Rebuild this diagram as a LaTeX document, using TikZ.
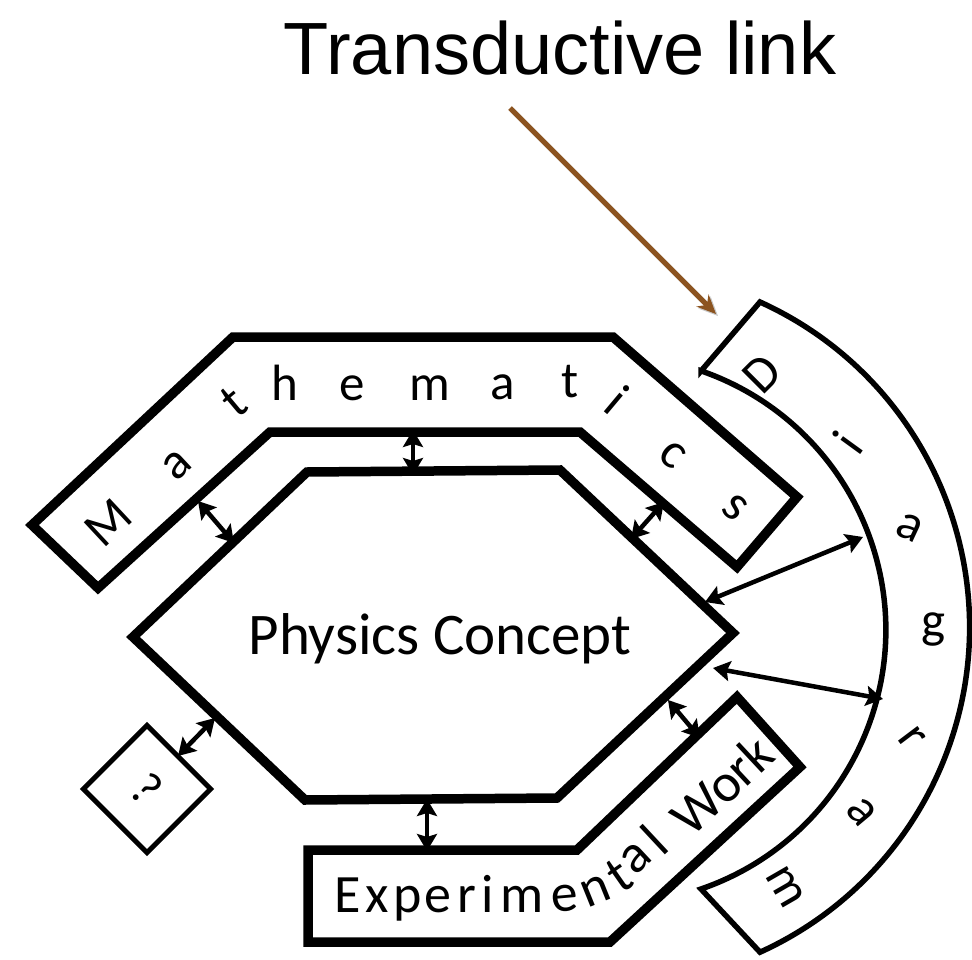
\documentclass[tikz,border=0pt]{standalone}
\usepackage{fontspec}
\setmainfont{Carlito}
\newfontfamily\arialf{Liberation Sans}
\usetikzlibrary{arrows.meta}
\definecolor{linkbrown}{RGB}{140,84,32}
\begin{document}
\begin{tikzpicture}[x=1pt,y=-1pt,
  thickline/.style={draw=black, line width=9.5pt, line join=miter},
  thinline/.style={draw=black, line width=5.5pt},
  link/.style={line width=4.5pt, {Stealth[length=17pt,width=20pt,inset=3pt]}-{Stealth[length=17pt,width=20pt,inset=3pt]}},
  lt/.style={inner sep=0pt, font=\fontsize{51}{60}\selectfont},
  et/.style={inner sep=0pt, font=\fontsize{54}{64}\selectfont}]
\useasboundingbox (0,0) rectangle (972,960);

% ---------- Physics Concept hexagon ----------
\coordinate (h1) at (307,472);
\coordinate (h2) at (560,470);
\coordinate (h3) at (733,633);
\coordinate (h4) at (557,798);
\coordinate (h5) at (305,800);
\coordinate (h6) at (133,637);
\draw[thickline] (h1) -- (h2) -- (h3) -- (h4) -- (h5) -- (h6) -- cycle;
\node[inner sep=0pt, anchor=base, font=\fontsize{59}{70}\selectfont] (pc) at (440,654) {Physics Concept};

% ---------- Mathematics band ----------
\coordinate (m1) at (32,525);
\coordinate (m2) at (233,337);
\coordinate (m3) at (613,337);
\coordinate (m4) at (797,497);
\coordinate (m5) at (737,567);
\coordinate (m6) at (580,432);
\coordinate (m7) at (270,432);
\coordinate (m8) at (98,588);
\draw[thickline] (m1) -- (m2) -- (m3) -- (m4) -- (m5) -- (m6) -- (m7) -- (m8) -- cycle;
\node[lt, rotate=43] (mM) at (108,523) {M};
\node[lt, rotate=43] (ma1) at (177,465) {a};
\node[lt, rotate=40] (mt1) at (234,402) {t};
\node[lt] (mh) at (285,383) {h};
\node[lt] (me) at (352,388) {e};
\node[lt] (mm) at (430,388) {m};
\node[lt] (ma2) at (503,387) {a};
\node[lt] (mt2) at (570,382) {t};
\node[lt, rotate=-40] (mi) at (617,400) {i};
\node[lt, rotate=-40] (mc) at (673,455) {c};
\node[lt, rotate=-40] (ms) at (735,508) {s};

% ---------- Experimental Work band ----------
\coordinate (e1) at (308,850);
\coordinate (e2) at (577,850);
\coordinate (e3) at (737,697);
\coordinate (e4) at (800,767);
\coordinate (e5) at (610,942);
\coordinate (e6) at (308,942);
\draw[thickline] (e1) -- (e2) -- (e3) -- (e4) -- (e5) -- (e6) -- cycle;
\node[et, anchor=base] (eE) at (348,912) {E};
\node[et, anchor=base] (ex) at (377,912) {x};
\node[et, anchor=base] (ep) at (408,912) {p};
\node[et, anchor=base] (ee1) at (438,912) {e};
\node[et, anchor=base] (er1) at (467,912) {r};
\node[et, anchor=base] (ei) at (488,912) {i};
\node[et, anchor=base] (em) at (522,912) {m};
\node[et, rotate=5] (ee2) at (565,898) {e};
\node[et, rotate=22] (en) at (596,891) {n};
\node[et, rotate=35] (et) at (619,875) {t};
\node[et, rotate=43] (ea) at (636,858) {a};
\node[et, rotate=43] (el) at (654,840) {l};
\node[et, rotate=43] (ework) at (722,785) {Work};

% ---------- Diagram band ----------
\coordinate (d1) at (701,371);
\coordinate (d2) at (760,302);
\coordinate (d3) at (760,951);
\coordinate (d4) at (701,889);
\draw[thinline, line join=miter] (d1) -- (d2)
  arc[start angle=-65.6, end angle=65.6, radius=357]
  -- (d4)
  arc[start angle=71, end angle=-71, radius=274] -- cycle;
\node[lt, rotate=45] (dD) at (762,374) {D};
\node[lt, rotate=54] (di) at (848,442) {i};
\node[lt, rotate=-25] (da1) at (910,528) {a};
\node[lt] (dg) at (933,630) {g};
\node[lt, rotate=-53] (dr) at (912,738) {r};
\node[lt, rotate=-50] (da2) at (862,812) {a};
\node[lt, rotate=-60] (dm) at (785,887) {m};

% ---------- ? diamond ----------
\node[draw, line width=5pt, rotate=-45, minimum size=90pt, inner sep=0pt,
      font=\fontsize{48}{56}\selectfont] (q) at (147,789) {?};

% ---------- links ----------
\coordinate (a1s) at (413,430); \coordinate (a1e) at (413,475);
\coordinate (a2s) at (198,501); \coordinate (a2e) at (234,543);
\coordinate (a3s) at (664,502); \coordinate (a3e) at (631,539);
\coordinate (a4s) at (863,537); \coordinate (a4e) at (705,602);
\coordinate (a5s) at (713,668); \coordinate (a5e) at (883,699);
\coordinate (a6s) at (700,738); \coordinate (a6e) at (668,700);
\coordinate (a7s) at (427,799); \coordinate (a7e) at (427,851);
\coordinate (a8s) at (215,718); \coordinate (a8e) at (178,756);
\draw[link] (a1s) -- (a1e);
\draw[link] (a2s) -- (a2e);
\draw[link] (a3s) -- (a3e);
\draw[link] (a4s) -- (a4e);
\draw[link] (a5s) -- (a5e);
\draw[link] (a6s) -- (a6e);
\draw[link] (a7s) -- (a7e);
\draw[link] (a8s) -- (a8e);

% ---------- Transductive link ----------
\node[inner sep=0pt, anchor=base, font=\arialf\fontsize{74}{88}\selectfont] (tl) at (560,75) {Transductive link};
\coordinate (bs) at (510,108);
\coordinate (be) at (716,314);
\draw[line width=5pt, draw=black!22, -{Stealth[length=19pt,width=17pt]}, transform canvas={xshift=2pt, yshift=-2pt}] (bs) -- (be);
\draw[line width=5pt, draw=linkbrown, -{Stealth[length=19pt,width=17pt]}] (bs) -- (be);
\end{tikzpicture}
\end{document}
